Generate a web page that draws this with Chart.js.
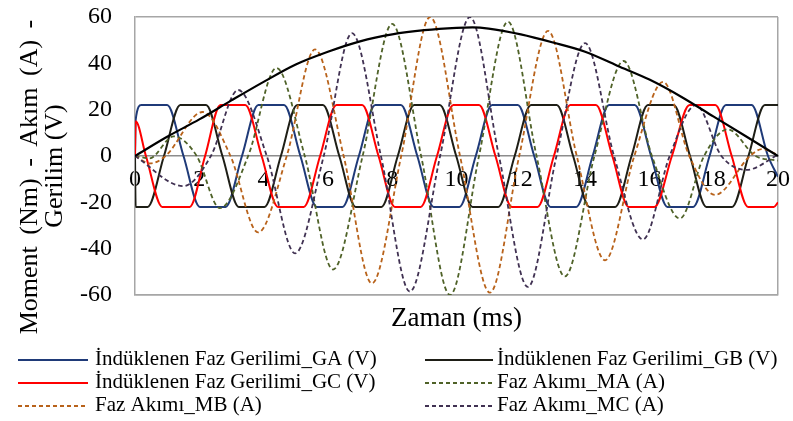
<!DOCTYPE html>
<html><head><meta charset="utf-8">
<script src="https://cdn.jsdelivr.net/npm/chart.js@4.4.1/dist/chart.umd.min.js"></script>
<style>html,body{margin:0;padding:0;background:#fff;}canvas{display:block;}</style>
</head><body>
<canvas id="c" width="793" height="421"></canvas>
<script>
// ---- tick labels / axis ranges ----
const xTickValues = [0,2,4,6,8,10,12,14,16,18,20];
const yTickValues = [-60,-40,-20,0,20,40,60];

// ---- titles / series labels ----
const xTitle = 'Zaman (ms)';
const yTitleLines = ['Moment (Nm) - Akım (A) -', 'Gerilim (V)'];
const seriesLabels = [
  'İndüklenen Faz Gerilimi_GA (V)',
  'İndüklenen Faz Gerilimi_GB (V)',
  'İndüklenen Faz Gerilimi_GC (V)',
  'Faz Akımı_MA (A)',
  'Faz Akımı_MB (A)',
  'Faz Akımı_MC (A)'
];

// ---- series values: [time ms, value] ----
const GA = [[0,0],[0.02,15.5],[0.2,22],[1.0,22],[1.509,0],[2.018,-22],[2.818,-22],[3.327,0],[3.836,22],[4.636,22],[5.145,0],[5.654,-22],[6.454,-22],[6.963,0],[7.472,22],[8.272,22],[8.781,0],[9.29,-22],[10.09,-22],[10.599,0],[11.108,22],[11.908,22],[12.417,0],[12.926,-22],[13.726,-22],[14.235,0],[14.744,22],[15.544,22],[16.053,0],[16.562,-22],[17.362,-22],[17.871,0],[18.38,22],[19.18,22],[19.689,0],[20,-9]];
const GB = [[0,0],[0.02,-22],[0.392,-22],[0.901,0],[1.41,22],[2.21,22],[2.719,0],[3.228,-22],[4.028,-22],[4.537,0],[5.046,22],[5.846,22],[6.355,0],[6.864,-22],[7.664,-22],[8.173,0],[8.682,22],[9.482,22],[9.991,0],[10.5,-22],[11.3,-22],[11.809,0],[12.318,22],[13.118,22],[13.627,0],[14.136,-22],[14.936,-22],[15.445,0],[15.954,22],[16.754,22],[17.263,0],[17.772,-22],[18.572,-22],[19.081,0],[19.59,22],[20,22]];
const GC = [[0,0],[0.02,15],[0.34,0],[0.85,-22],[1.7,-22],[2.18,0],[2.66,22],[3.43,22],[3.939,0],[4.448,-22],[5.248,-22],[5.757,0],[6.266,22],[7.066,22],[7.575,0],[8.084,-22],[8.884,-22],[9.393,0],[9.902,22],[10.702,22],[11.211,0],[11.72,-22],[12.52,-22],[13.029,0],[13.538,22],[14.338,22],[14.847,0],[15.356,-22],[16.156,-22],[16.7,0],[17.25,22],[18.05,22],[18.56,0],[19.07,-22],[19.87,-22],[20,-20]];
const MA = [[0,0],[0.45,-1],[1.2,8.5],[1.92,0],[2.64,-22.5],[3.52,0],[4.4,38],[5.28,0],[6.16,-49],[7.08,0],[8.0,57],[8.9,0],[9.8,-60],[10.7,0],[11.6,58],[12.49,0],[13.37,-52],[14.29,0],[15.2,41],[16.08,0],[16.95,-27],[17.7,0],[18.44,11.5],[19.3,0],[20,-2]];
const MB = [[0,0],[0.47,-3.2],[0.95,0],[2.1,19],[2.97,0],[3.83,-33],[4.72,0],[5.6,46],[6.49,0],[7.37,-55],[8.28,0],[9.18,60],[10.11,0],[11.04,-59],[11.95,0],[12.85,54],[13.74,0],[14.62,-45],[15.53,0],[16.43,32],[17.24,0],[18.04,-16.8],[19.13,0],[19.5,3],[20,0.5]];
const MC = [[0,0],[1.5,-13],[2.36,0],[3.21,28.5],[4.1,0],[4.98,-42],[5.87,0],[6.75,53],[7.65,0],[8.55,-58.5],[9.49,0],[10.42,60],[11.32,0],[12.22,-56.5],[13.11,0],[14.0,48.7],[14.9,0],[15.8,-36],[16.63,0],[17.45,22],[18.24,0],[19.02,-6],[20,0.5]];
const MOMENT = [[0,0],[1,8.3],[2,15.8],[3,24],[4,32],[5,39.5],[6,45],[7,49.5],[8,52.5],[9,54.3],[10,55.3],[10.5,55.5],[11,55],[12,52.5],[13,49],[14,45],[15,39],[16,33],[17,25.5],[18,17],[19,8.5],[20,0]];

const FONT = "'Liberation Serif', 'Times New Roman', serif";
const GRID = '#A6A6A6';
const toXY = arr => arr.map(p => ({x: p[0], y: p[1]}));

function solid(label, data, color, order) {
  return {label, data: toXY(data), borderColor: color, backgroundColor: color, borderWidth: 2,
    pointRadius: 0, cubicInterpolationMode: 'monotone', order};
}
function dashed(label, data, color, order) {
  return {label, data: toXY(data), borderColor: color, backgroundColor: color, borderWidth: 1.8,
    borderDash: [4.5, 3], pointRadius: 0, cubicInterpolationMode: 'monotone', order};
}

const datasets = [
  solid(seriesLabels[0], GA, '#1F3A78', 7),
  solid(seriesLabels[1], GB, '#1E1E16', 6),
  solid(seriesLabels[2], GC, '#FF0000', 5),
  dashed(seriesLabels[3], MA, '#4F6228', 4),
  dashed(seriesLabels[4], MB, '#B8621A', 3),
  dashed(seriesLabels[5], MC, '#403152', 2),
  {label: 'Moment (Nm)', data: toXY(MOMENT), borderColor: '#000000', borderWidth: 2.2,
   pointRadius: 0, cubicInterpolationMode: 'monotone', order: 1, inLegend: false}
];

// grid legend (two columns, three rows) drawn from the dataset styles, plus the two-line y title
const LEG_LINE_X = [18, 425], LEG_LINE_W = [70, 68], LEG_TEXT_X = [95, 497], LEG_Y = [359, 382, 405];
const YT_X = [30, 55], YT_Y = [177, 166];
const extras = {
  id: 'extras',
  afterDraw(chart) {
    const ctx = chart.ctx;
    ctx.save();
    ctx.font = '21px ' + FONT;
    ctx.textBaseline = 'middle';
    ctx.textAlign = 'left';
    chart.data.datasets.filter(d => d.inLegend !== false).forEach((ds, i) => {
      const col = i % 2, row = Math.floor(i / 2);
      const y = LEG_Y[row];
      ctx.beginPath();
      ctx.strokeStyle = ds.borderColor;
      ctx.lineWidth = ds.borderWidth;
      ctx.setLineDash(ds.borderDash ? [4, 3] : []);
      ctx.moveTo(LEG_LINE_X[col], y + 1);
      ctx.lineTo(LEG_LINE_X[col] + LEG_LINE_W[col], y + 1);
      ctx.stroke();
      ctx.setLineDash([]);
      ctx.fillStyle = '#000';
      ctx.fillText(ds.label, LEG_TEXT_X[col], y);
    });
    ctx.restore();
    // y axis title, two rotated lines
    yTitleLines.forEach((t, i) => {
      ctx.save();
      ctx.translate(YT_X[i], YT_Y[i]);
      ctx.rotate(-Math.PI / 2);
      ctx.font = '26px ' + FONT;
      try { ctx.wordSpacing = i === 0 ? '5px' : '0px'; } catch (e) {}
      ctx.textAlign = 'center';
      ctx.textBaseline = 'middle';
      ctx.fillStyle = '#000';
      ctx.fillText(t, 0, 0);
      ctx.restore();
    });
  }
};

const noPad = s => { s.paddingTop = 0; s.paddingBottom = 0; s.paddingLeft = 0; s.paddingRight = 0; };

new Chart(document.getElementById('c'), {
  type: 'line',
  data: {datasets},
  plugins: [extras],
  options: {
    responsive: false,
    animation: false,
    devicePixelRatio: 1,
    layout: {padding: {top: 17, right: 15, left: 0, bottom: 0}},
    plugins: {legend: {display: false}, tooltip: {enabled: false}},
    scales: {
      x: {
        type: 'linear', position: 'bottom', min: 0, max: 20,
        afterBuildTicks: s => { s.ticks = xTickValues.map(v => ({value: v})); },
        ticks: {display: false},
        grid: {drawTicks: false, lineWidth: 1.5, color: c => (c.tick && c.tick.value === 20) ? GRID : 'rgba(0,0,0,0)'},
        border: {display: true, color: GRID, width: 1.5},
        title: {display: true, text: xTitle, color: '#000', font: {family: FONT, size: 27}, padding: {top: 0, bottom: 86}},
        afterFit: s => { s.height = 126; noPad(s); }
      },
      x2: {
        type: 'linear', position: {y: 0}, min: 0, max: 20,
        afterBuildTicks: s => { s.ticks = xTickValues.map(v => ({value: v})); },
        ticks: {color: '#000', font: {family: FONT, size: 24}, padding: 9, maxRotation: 0, autoSkip: false},
        grid: {drawOnChartArea: false, drawTicks: false},
        border: {display: true, color: '#8C8C8C', width: 1.5},
        afterFit: s => { noPad(s); }
      },
      y: {
        min: -60, max: 60,
        afterBuildTicks: s => { s.ticks = yTickValues.map(v => ({value: v})); },
        ticks: {color: '#000', font: {family: FONT, size: 24}, padding: 23},
        grid: {drawTicks: false, lineWidth: 1.5, color: c => (c.tick && Math.abs(c.tick.value) === 60) ? GRID : 'rgba(0,0,0,0)'},
        border: {display: true, color: GRID, width: 1.5},
        afterFit: s => { s.width = 135; noPad(s); }
      }
    }
  }
});
</script>
</body></html>
